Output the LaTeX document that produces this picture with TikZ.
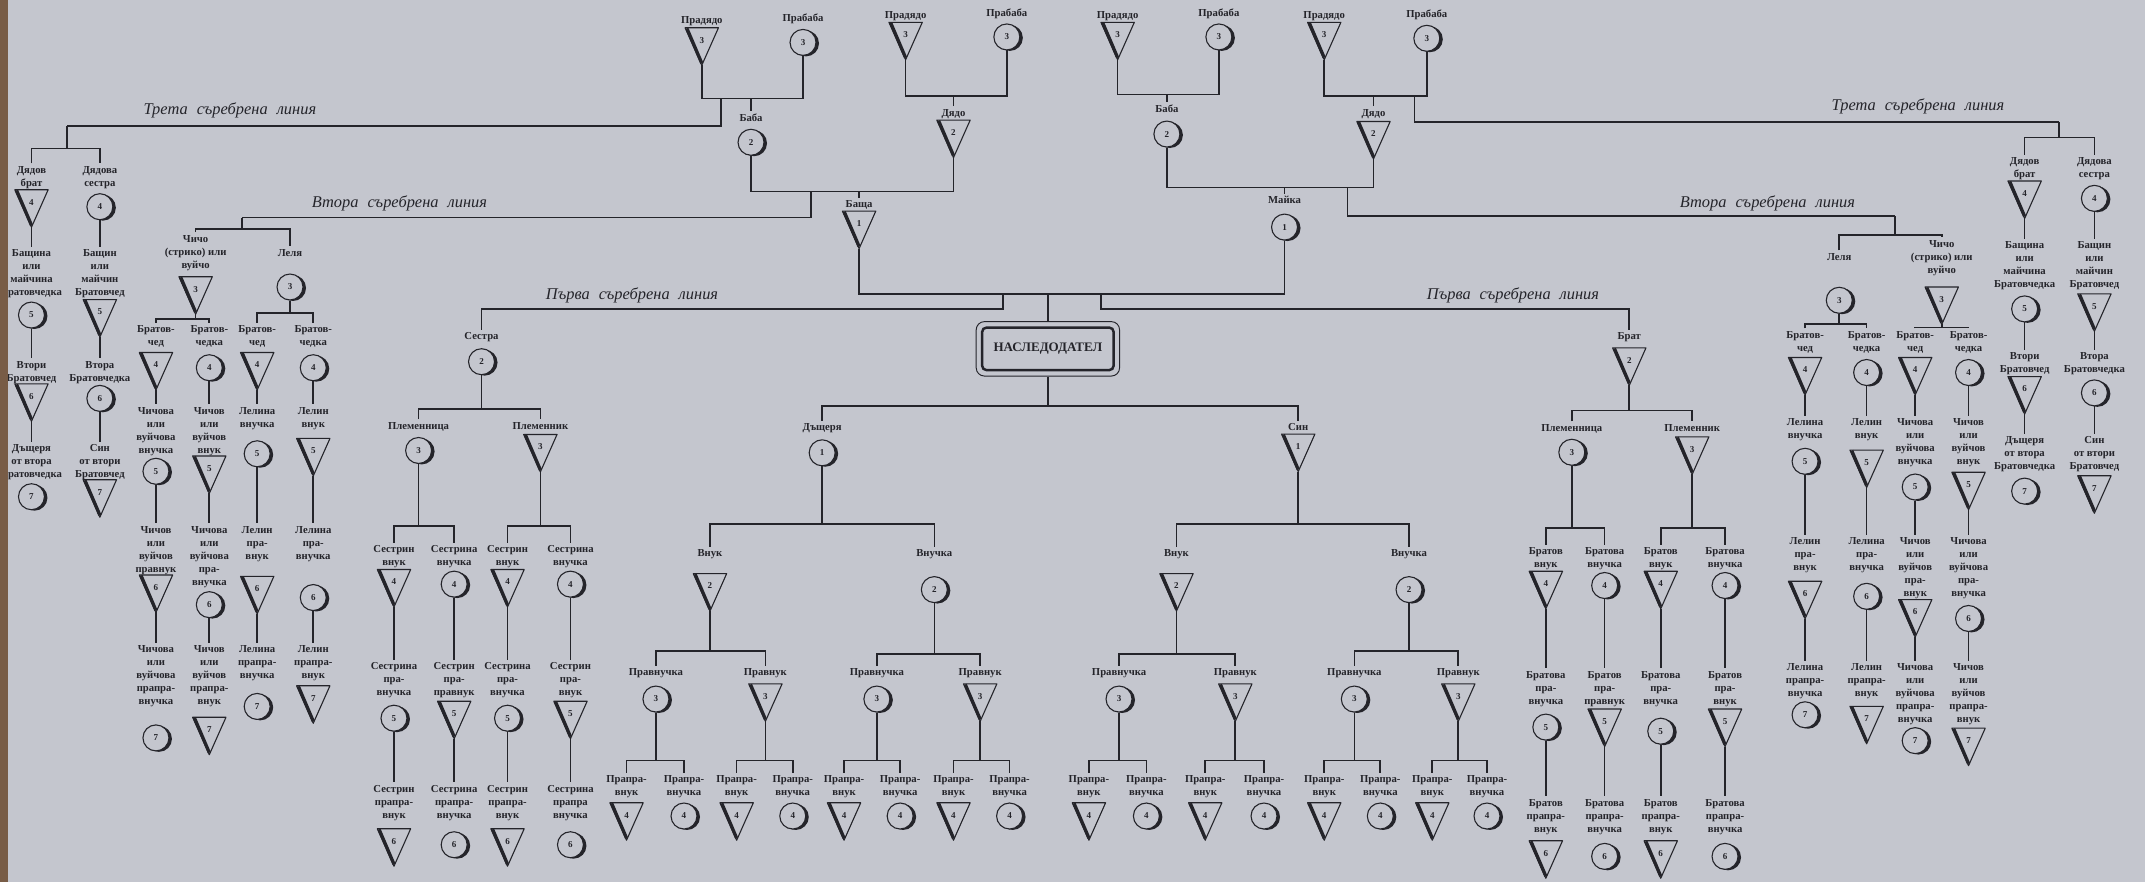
\documentclass[tikz,border=0pt]{standalone}
\usepackage{fontspec}
\setmainfont{Liberation Serif}
\usetikzlibrary{shadows,fit,calc}
\definecolor{paper}{RGB}{196,198,206}
\definecolor{ink}{RGB}{36,36,42}
\definecolor{edgec}{RGB}{120,92,70}
\newcommand\labfont{\fontsize{7.8}{9.5}\selectfont\bfseries}
\newcommand\numfont{\fontsize{6.6}{6.6}\selectfont\bfseries}
\newcommand\ttlfont{\fontsize{12}{14}\selectfont\itshape}
\newcommand\wsp{\hspace{0.55em}}
\tikzset{
  lab/.style={anchor=north, align=center, font=\labfont, text=ink, inner xsep=0pt, inner ysep=2pt},
  msym/.style={rectangle, minimum width=24pt, minimum height=27pt, inner sep=0pt, font=\numfont, text=ink},
  fsym/.style={circle, minimum size=19pt, inner sep=0pt, draw=ink, line width=0.8pt, fill=paper, font=\numfont, text=ink,
     drop shadow={shadow xshift=2.2pt, shadow yshift=-0.7pt, opacity=1, fill=ink}},
  conn/.style={draw=ink, line width=1.2pt},
  ttl/.style={font=\ttlfont, text=ink, inner sep=1pt},
}
\newcommand\maleP[6]{%
  \node[lab] (#1l) at (#2,#3-2) {#6};
  \node[msym] (#1) at (#2,#4) {\raisebox{2.5pt}[0pt][0pt]{#5}};
  \draw[ink, line width=0.8pt, line join=round] (#1.north west) -- (#1.north east) -- (#1.south) -- cycle;
  \draw[ink, line width=2.4pt] ([xshift=1.3pt,yshift=-0.4pt]#1.north west) -- ([yshift=1.5pt]#1.south);
}
\newcommand\femP[6]{%
  \node[lab] (#1l) at (#2,#3-2) {#6};
  \node[fsym] (#1) at (#2,#4) {#5};
}
\newcommand\chainto[2]{\draw[conn] (#1.south) -- (#2l.north);}
\newcommand\forkto[4]{%
  \draw[conn] (#1) -- (#1 |- 0,#2);
  \draw[conn] (#3l.north) |- (#4l.north |- 0,#2) -- (#4l.north);
}
\newcommand\coupleto[4]{%
  \draw[conn] (#1.south) |- (#2.south |- 0,#3) -- (#2.south);
  \draw[conn] (#4l.north) -- (#4l.north |- 0,#3);
}
\begin{document}
\begin{tikzpicture}[x=1pt,y=-1pt]
\useasboundingbox (0,0) rectangle (1568,645);
\fill[paper] (0,0) rectangle (1568,645);

% ===== ancestors =====
\maleP{gg1}{513}{12}{34}{3}{Прадядо}
\femP{gb1}{587}{10}{31}{3}{Прабаба}
\maleP{gg2}{662}{8}{30}{3}{Прадядо}
\femP{gb2}{736}{6}{27}{3}{Прабаба}
\maleP{gg3}{817}{8}{30}{3}{Прадядо}
\femP{gb3}{891}{6}{27}{3}{Прабаба}
\maleP{gg4}{968}{8}{30}{3}{Прадядо}
\femP{gb4}{1043}{7}{28}{3}{Прабаба}
\femP{b1}{549}{83}{104}{2}{Баба}
\maleP{d1}{697}{79.5}{101.5}{2}{Дядо}
\femP{b2}{853}{76.5}{98}{2}{Баба}
\maleP{d2}{1004}{79.5}{102.5}{2}{Дядо}
\maleP{father}{628}{146.5}{168}{1}{Баща}
\femP{mother}{939}{143.5}{166}{1}{Майка}
\coupleto{gg1}{gb1}{72}{b1}
\coupleto{gg2}{gb2}{70}{d1}
\coupleto{gg3}{gb3}{69}{b2}
\coupleto{gg4}{gb4}{70}{d2}
\coupleto{b1}{d1}{140}{father}
\coupleto{b2}{d2}{137}{mother}

\node[draw=ink, line width=1.8pt, rounded corners=3pt, minimum width=96pt, minimum height=31pt, fill=paper,
      font=\fontsize{9.5}{10}\selectfont\bfseries, text=ink] (heir) at (766,255) {НАСЛЕДОДАТЕЛ};
\node[draw=ink, line width=0.7pt, rounded corners=6pt, fit=(heir), inner sep=3.5pt] (heirout) {};
\draw[conn] (father.south) |- (mother.south |- 0,215) -- (mother.south);
\draw[conn] (heirout.north) -- (heirout.north |- 0,215);

% ===== titles =====
\node[ttl] (t3Ltxt) at (168,81) {Трета\wsp съребрена\wsp линия};
\node[ttl] (t3Rtxt) at (1402,78) {Трета\wsp съребрена\wsp линия};
\node[ttl] (t2Ltxt) at (292,149) {Втора\wsp съребрена\wsp линия};
\node[ttl] (t2Rtxt) at (1292,149) {Втора\wsp съребрена\wsp линия};
\node[ttl] (t1Ltxt) at (462,216) {Първа\wsp съребрена\wsp линия};
\node[ttl] (t1Rtxt) at (1106,216) {Първа\wsp съребрена\wsp линия};

% ===== left third line =====
\maleP{ubL}{23}{121.5}{152.4}{4}{Дядов\\брат}
\femP{uaL}{73}{121.5}{151.1}{4}{Дядова\\сестра}
\femP{cL5a}{23}{182.2}{230.3}{5}{Бащина\\или\\майчина\\Братовчедка}
\maleP{cL5b}{73}{182.2}{232.7}{5}{Бащин\\или\\майчин\\Братовчед}
\maleP{cL6a}{23}{264}{294.3}{6}{Втори\\Братовчед}
\femP{cL6b}{73}{264}{291.2}{6}{Втора\\Братовчедка}
\femP{cL7a}{23}{325}{363.1}{7}{Дъщеря\\от втора\\Братовчедка}
\maleP{cL7b}{73}{325}{364.4}{7}{Син\\от втори\\Братовчед}
\coordinate (t3La) at (527,72);
\coordinate (t3Lb) at (49,92);
\draw[conn] (t3La) |- (t3Lb);
\forkto{t3Lb}{108.5}{ubL}{uaL}
\chainto{ubL}{cL5a}\chainto{uaL}{cL5b}
\chainto{cL5a}{cL6a}\chainto{cL5b}{cL6b}
\chainto{cL6a}{cL7a}\chainto{cL6b}{cL7b}

% ===== left second line =====
\maleP{uncL}{143}{171.7}{216}{3}{Чичо\\(стрико) или\\вуйчо}
\femP{auntL}{212}{182}{209.8}{3}{Леля}
\maleP{cLa}{114}{238}{271.4}{4}{Братов-\\чед}
\femP{cLb}{153}{238}{268.8}{4}{Братов-\\чедка}
\maleP{cLc}{188}{238}{271.4}{4}{Братов-\\чед}
\femP{cLd}{229}{238}{268.8}{4}{Братов-\\чедка}
\femP{gLa}{114}{297.4}{344.5}{5}{Чичова\\или\\вуйчова\\внучка}
\maleP{gLb}{153}{297.4}{347}{5}{Чичов\\или\\вуйчов\\внук}
\femP{gLc}{188}{297.4}{331.7}{5}{Лелина\\внучка}
\maleP{gLd}{229}{297.4}{334.2}{5}{Лелин\\внук}
\maleP{hLa}{114}{384.6}{434}{6}{Чичов\\или\\вуйчов\\правнук}
\femP{hLb}{153}{384.6}{442}{6}{Чичова\\или\\вуйчова\\пра-\\внучка}
\maleP{hLc}{188}{384.6}{435}{6}{Лелин\\пра-\\внук}
\femP{hLd}{229}{384.6}{436.8}{6}{Лелина\\пра-\\внучка}
\femP{iLa}{114}{471.8}{539.4}{7}{Чичова\\или\\вуйчова\\прапра-\\внучка}
\maleP{iLb}{153}{471.8}{538}{7}{Чичов\\или\\вуйчов\\прапра-\\внук}
\femP{iLc}{188}{471.8}{516.4}{7}{Лелина\\прапра-\\внучка}
\maleP{iLd}{229}{471.8}{515}{7}{Лелин\\прапра-\\внук}
\coordinate (t2La) at (593,140);
\coordinate (t2Lb) at (177,159);
\draw[conn] (t2La) |- (t2Lb);
\forkto{t2Lb}{167.5}{uncL}{auntL}
\forkto{uncL.south}{233}{cLa}{cLb}
\forkto{auntL.south}{229}{cLc}{cLd}
\chainto{cLa}{gLa}\chainto{cLb}{gLb}\chainto{cLc}{gLc}\chainto{cLd}{gLd}
\chainto{gLa}{hLa}\chainto{gLb}{hLb}\chainto{gLc}{hLc}\chainto{gLd}{hLd}
\chainto{hLa}{iLa}\chainto{hLb}{iLb}\chainto{hLc}{iLc}\chainto{hLd}{iLd}

% ===== sister (first line left) =====
\femP{sis}{352}{243}{264.4}{2}{Сестра}
\femP{nieceL}{306}{308.3}{329.3}{3}{Племенница}
\maleP{nephL}{395}{308.3}{331.3}{3}{Племенник}
\maleP{sL1}{288}{398.8}{430}{4}{Сестрин\\внук}
\femP{sL2}{332}{398.8}{427}{4}{Сестрина\\внучка}
\maleP{sL3}{371}{398.8}{430}{4}{Сестрин\\внук}
\femP{sL4}{417}{398.8}{427}{4}{Сестрина\\внучка}
\femP{sL5}{288}{484.3}{525}{5}{Сестрина\\пра-\\внучка}
\maleP{sL6}{332}{484.3}{526.3}{5}{Сестрин\\пра-\\правнук}
\femP{sL7}{371}{484.3}{525}{5}{Сестрина\\пра-\\внучка}
\maleP{sL8}{417}{484.3}{526.3}{5}{Сестрин\\пра-\\внук}
\maleP{sL9}{288}{574}{619.5}{6}{Сестрин\\прапра-\\внук}
\femP{sL10}{332}{574}{617.5}{6}{Сестрина\\прапра-\\внучка}
\maleP{sL11}{371}{574}{619.5}{6}{Сестрин\\прапра-\\внук}
\femP{sL12}{417}{574}{617.5}{6}{Сестрина\\прапра\\внучка}
\coordinate (t1La) at (733,215);
\draw[conn] (t1La) |- (sisl.north |- 0,226) -- (sisl.north);
\forkto{sis.south}{299}{nieceL}{nephL}
\forkto{nieceL.south}{384.4}{sL1}{sL2}
\forkto{nephL.south}{384.4}{sL3}{sL4}
\chainto{sL1}{sL5}\chainto{sL2}{sL6}\chainto{sL3}{sL7}\chainto{sL4}{sL8}
\chainto{sL5}{sL9}\chainto{sL6}{sL10}\chainto{sL7}{sL11}\chainto{sL8}{sL12}

% ===== descendants =====
\femP{dau}{601}{309.5}{331}{1}{Дъщеря}
\maleP{son}{949}{309.5}{331}{1}{Син}
\maleP{gs1}{519}{401.5}{433}{2}{Внук}
\femP{gd1}{683}{401.5}{431}{2}{Внучка}
\maleP{gs2}{860}{401.5}{433}{2}{Внук}
\femP{gd2}{1030}{401.5}{431}{2}{Внучка}
\femP{ggd1}{479.5}{488.5}{511}{3}{Правнучка}
\maleP{ggs1}{559.5}{488.5}{513.6}{3}{Правнук}
\femP{ggd2}{641}{488.5}{511}{3}{Правнучка}
\maleP{ggs2}{716.5}{488.5}{513.6}{3}{Правнук}
\femP{ggd3}{818}{488.5}{511}{3}{Правнучка}
\maleP{ggs3}{903}{488.5}{513.6}{3}{Правнук}
\femP{ggd4}{990}{488.5}{511}{3}{Правнучка}
\maleP{ggs4}{1066}{488.5}{513.6}{3}{Правнук}
\maleP{pA1}{458}{567}{600.5}{4}{Прапра-\\внук}
\femP{pA2}{500}{567}{596.5}{4}{Прапра-\\внучка}
\maleP{pB1}{538.5}{567}{600.5}{4}{Прапра-\\внук}
\femP{pB2}{579.5}{567}{596.5}{4}{Прапра-\\внучка}
\maleP{pC1}{617}{567}{600.5}{4}{Прапра-\\внук}
\femP{pC2}{658}{567}{596.5}{4}{Прапра-\\внучка}
\maleP{pD1}{697}{567}{600.5}{4}{Прапра-\\внук}
\femP{pD2}{738}{567}{596.5}{4}{Прапра-\\внучка}
\maleP{pE1}{796}{567}{600.5}{4}{Прапра-\\внук}
\femP{pE2}{838}{567}{596.5}{4}{Прапра-\\внучка}
\maleP{pF1}{881}{567}{600.5}{4}{Прапра-\\внук}
\femP{pF2}{924}{567}{596.5}{4}{Прапра-\\внучка}
\maleP{pG1}{968}{567}{600.5}{4}{Прапра-\\внук}
\femP{pG2}{1009}{567}{596.5}{4}{Прапра-\\внучка}
\maleP{pH1}{1047}{567}{600.5}{4}{Прапра-\\внук}
\femP{pH2}{1087}{567}{596.5}{4}{Прапра-\\внучка}
\forkto{heirout.south}{297}{dau}{son}
\forkto{dau.south}{383}{gs1}{gd1}
\forkto{son.south}{383}{gs2}{gd2}
\forkto{gs1.south}{476}{ggd1}{ggs1}
\forkto{gd1.south}{478}{ggd2}{ggs2}
\forkto{gs2.south}{478}{ggd3}{ggs3}
\forkto{gd2.south}{476}{ggd4}{ggs4}
\forkto{ggd1.south}{556}{pA1}{pA2}
\forkto{ggs1.south}{556}{pB1}{pB2}
\forkto{ggd2.south}{556}{pC1}{pC2}
\forkto{ggs2.south}{556}{pD1}{pD2}
\forkto{ggd3.south}{556}{pE1}{pE2}
\forkto{ggs3.south}{556}{pF1}{pF2}
\forkto{ggd4.south}{556}{pG1}{pG2}
\forkto{ggs4.south}{556}{pH1}{pH2}

% ===== brother (first line right) =====
\maleP{bro}{1191}{243}{268}{2}{Брат}
\femP{nieceR}{1149}{310}{330.6}{3}{Племенница}
\maleP{nephR}{1237}{310}{333}{3}{Племенник}
\maleP{bR1}{1130}{400.3}{431.3}{4}{Братов\\внук}
\femP{bR2}{1173}{400.3}{428}{4}{Братова\\внучка}
\maleP{bR3}{1214}{400.3}{431.3}{4}{Братов\\внук}
\femP{bR4}{1261}{400.3}{428}{4}{Братова\\внучка}
\femP{bR5}{1130}{490.4}{531.5}{5}{Братова\\пра-\\внучка}
\maleP{bR6}{1173}{490.4}{532}{5}{Братов\\пра-\\правнук}
\femP{bR7}{1214}{490.4}{534.5}{5}{Братова\\пра-\\внучка}
\maleP{bR8}{1261}{490.4}{532}{5}{Братов\\пра-\\внук}
\maleP{bR9}{1130}{584}{628.3}{6}{Братов\\прапра-\\внук}
\femP{bR10}{1173}{584}{626}{6}{Братова\\прапра-\\внучка}
\maleP{bR11}{1214}{584}{628.3}{6}{Братов\\прапра-\\внук}
\femP{bR12}{1261}{584}{626}{6}{Братова\\прапра-\\внучка}
\coordinate (t1Ra) at (805,215);
\draw[conn] (t1Ra) |- (brol.north |- 0,226) -- (brol.north);
\forkto{bro.south}{300}{nieceR}{nephR}
\forkto{nieceR.south}{386}{bR1}{bR2}
\forkto{nephR.south}{386}{bR3}{bR4}
\chainto{bR1}{bR5}\chainto{bR2}{bR6}\chainto{bR3}{bR7}\chainto{bR4}{bR8}
\chainto{bR5}{bR9}\chainto{bR6}{bR10}\chainto{bR7}{bR11}\chainto{bR8}{bR12}

% ===== right second line =====
\femP{auntR}{1344.5}{185}{219.5}{3}{Леля}
\maleP{uncR}{1419.4}{175.5}{223.5}{3}{Чичо\\(стрико) или\\вуйчо}
\maleP{cRa}{1319.5}{242}{275}{4}{Братов-\\чед}
\femP{cRb}{1364.5}{242}{272.3}{4}{Братов-\\чедка}
\maleP{cRc}{1400}{242}{275}{4}{Братов-\\чед}
\femP{cRd}{1439}{242}{272.3}{4}{Братов-\\чедка}
\femP{gRa}{1319.5}{306}{337.2}{5}{Лелина\\внучка}
\maleP{gRb}{1364.5}{306}{342.7}{5}{Лелин\\внук}
\femP{gRc}{1400}{306}{356}{5}{Чичова\\или\\вуйчова\\внучка}
\maleP{gRd}{1439}{306}{358.9}{5}{Чичов\\или\\вуйчов\\внук}
\maleP{hRa}{1319.5}{393}{438.6}{6}{Лелин\\пра-\\внук}
\femP{hRb}{1364.5}{393}{435.9}{6}{Лелина\\пра-\\внучка}
\maleP{hRc}{1400}{393}{452}{6}{Чичов\\или\\вуйчов\\пра-\\внук}
\femP{hRd}{1439}{393}{452.1}{6}{Чичова\\или\\вуйчова\\пра-\\внучка}
\femP{iRa}{1319.5}{485}{522.5}{7}{Лелина\\прапра-\\внучка}
\maleP{iRb}{1364.5}{485}{530}{7}{Лелин\\прапра-\\внук}
\femP{iRc}{1400}{485}{541.4}{7}{Чичова\\или\\вуйчова\\прапра-\\внучка}
\maleP{iRd}{1439}{485}{546}{7}{Чичов\\или\\вуйчов\\прапра-\\внук}
\coordinate (t2Ra) at (985,137);
\coordinate (t2Rb) at (1385,158);
\draw[conn] (t2Ra) |- (t2Rb);
\forkto{t2Rb}{171.6}{auntR}{uncR}
\forkto{auntR.south}{237}{cRa}{cRb}
\forkto{uncR.south}{239.3}{cRc}{cRd}
\chainto{cRa}{gRa}\chainto{cRb}{gRb}\chainto{cRc}{gRc}\chainto{cRd}{gRd}
\chainto{gRa}{hRa}\chainto{gRb}{hRb}\chainto{gRc}{hRc}\chainto{gRd}{hRd}
\chainto{hRa}{iRa}\chainto{hRb}{iRb}\chainto{hRc}{iRc}\chainto{hRd}{iRd}

% ===== right third line =====
\maleP{ubR}{1480}{115.3}{146}{4}{Дядов\\брат}
\femP{uaR}{1531}{115.3}{145}{4}{Дядова\\сестра}
\femP{cR5a}{1480}{176.5}{225.8}{5}{Бащина\\или\\майчина\\Братовчедка}
\maleP{cR5b}{1531}{176.5}{228.5}{5}{Бащин\\или\\майчин\\Братовчед}
\maleP{cR6a}{1480}{257.5}{289}{6}{Втори\\Братовчед}
\femP{cR6b}{1531}{257.5}{287.2}{6}{Втора\\Братовчедка}
\femP{cR7a}{1480}{319}{359}{7}{Дъщеря\\от втора\\Братовчедка}
\maleP{cR7b}{1531}{319}{361.5}{7}{Син\\от втори\\Братовчед}
\coordinate (t3Ra) at (1034,70);
\coordinate (t3Rb) at (1505,89);
\draw[conn] (t3Ra) |- (t3Rb);
\forkto{t3Rb}{100.5}{ubR}{uaR}
\chainto{ubR}{cR5a}\chainto{uaR}{cR5b}
\chainto{cR5a}{cR6a}\chainto{cR5b}{cR6b}
\chainto{cR6a}{cR7a}\chainto{cR6b}{cR7b}

\fill[edgec] (0,0) rectangle (6,645);
\end{tikzpicture}
\end{document}
